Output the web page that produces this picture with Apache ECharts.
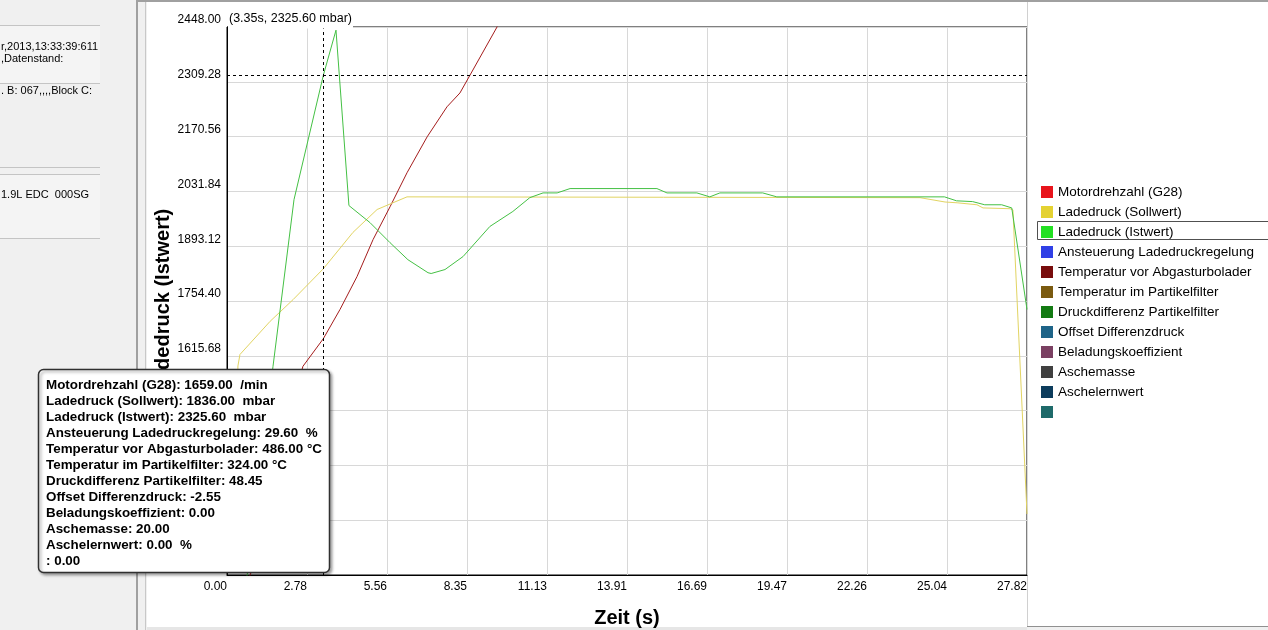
<!DOCTYPE html>
<html>
<head>
<meta charset="utf-8">
<script src="https://cdn.jsdelivr.net/npm/echarts@6/dist/echarts.min.js"></script>
<style>
html,body{margin:0;padding:0;background:#f0f0f0;}
#chart{width:1268px;height:630px;}
</style>
</head>
<body>
<div id="chart"></div>
<script>
// ---------- data ----------
const seriesNames = ['Motordrehzahl (G28)', 'Ladedruck (Sollwert)', 'Ladedruck (Istwert)', 'Ansteuerung Ladedruckregelung', 'Temperatur vor Abgasturbolader', 'Temperatur im Partikelfilter', 'Druckdifferenz Partikelfilter', 'Offset Differenzdruck', 'Beladungskoeffizient', 'Aschemasse', 'Aschelernwert', ' '];
const legendColors = ['#e8141c', '#e4d232', '#22e022', '#3040e6', '#780c0c', '#7a5a10', '#137a13', '#1e6488', '#7a4062', '#404040', '#0c3c5c', '#1e6a6a'];

const rpmTime   = [0, 1.0, 2.0, 2.64, 3.35, 3.93, 4.52, 5.08, 5.67, 6.26, 6.96, 7.65, 8.10, 8.55, 9.39, 10.2, 12.0, 27.82];
const rpmValues = [900, 1100, 1420, 1589, 1659, 1733, 1816, 1910, 1993, 2079, 2170, 2246, 2281, 2339, 2448, 2620, 2950, 3700];

const sollTime   = [0, 0.30, 0.38, 0.45, 1.50, 2.30, 3.35, 4.38, 5.22, 5.77, 6.26, 24.10, 24.97, 25.39, 26.08, 26.29, 27.23, 27.33, 27.82];
const sollValues = [1250, 1300, 1590, 1619, 1703, 1758, 1836, 1928, 1986, 2003, 2018, 2016, 2005, 2003, 1998, 1990, 1988, 1985, 1215];

const istTime   = [0, 0.42, 0.70, 1.60, 2.33, 3.35, 3.79, 4.24, 4.97, 5.67, 6.29, 6.99, 7.10, 7.58, 8.21, 9.14, 9.94, 10.53, 10.99, 11.48, 11.93, 14.95, 15.30, 16.34, 16.79, 17.14, 18.63, 19.12, 24.95, 25.37, 25.93, 26.35, 26.94, 27.29, 27.82];
const istValues = [1030, 1035, 1060, 1589, 2011, 2325.6, 2440, 1996, 1953, 1902, 1859, 1826, 1824, 1834, 1867, 1943, 1981, 2016, 2028, 2028, 2039, 2039, 2028, 2028, 2018, 2028, 2028, 2018, 2018, 2008, 2006, 1998, 1998, 1990, 1733];

const xMin = 0, xMax = 27.82, xStep = 2.782;
const yMin = 1060.80, yMax = 2448.00, yStep = 138.72;

const cursorTime = 3.35, cursorValue = 2325.60;
const tooltipValues = ['1659.00', '1836.00', '2325.60', '29.60', '486.00', '324.00', '48.45', '-2.55', '0.00', '20.00', '0.00', '0.00'];
const tooltipUnits  = ['  /min', '  mbar', '  mbar', '  %', ' °C', ' °C', '', '', '', '', '  %', ''];

const panelTexts = [
  {text: 'r,2013,13:33:39:6110', y: 46},
  {text: ',Datenstand:', y: 58},
  {text: '. B: 067,,,,Block C:', y: 90},
  {text: '1.9L EDC  000SG', y: 194}
];

// ---------- build ----------
const FONT = '"Liberation Sans", Arial, sans-serif';
const zip = (a, b) => a.map((v, i) => [v, b[i]]);
const lineColors = {0: '#a41c1c', 1: '#e2d462', 2: '#44c044'};
const lineData = {0: zip(rpmTime, rpmValues), 1: zip(sollTime, sollValues), 2: zip(istTime, istValues)};

const series = seriesNames.map((name, i) => {
  const s = {
    name: name,
    type: 'line',
    data: lineData[i] || [],
    showSymbol: false,
    symbol: 'none',
    animation: false,
    itemStyle: {color: legendColors[i]},
    lineStyle: {color: lineColors[i] || legendColors[i], width: 1},
    z: 3 + (i === 2 ? 1 : 0)
  };
  if (i === 2) {
    s.markLine = {
      silent: true, symbol: 'none', animation: false,
      label: {show: false},
      lineStyle: {color: '#000', type: [3, 3], width: 1},
      data: [{xAxis: cursorTime}, {yAxis: cursorValue}]
    };
  }
  return s;
});

const tooltipLines = seriesNames.map((n, i) => (n.trim()) + ': ' + tooltipValues[i] + tooltipUnits[i]);

const graphics = [
  {type: 'rect', z: -10, shape: {x: 147, y: 2, width: 1121, height: 625}, style: {fill: '#ffffff'}},
  {type: 'rect', z: -9, shape: {x: 137, y: 0, width: 1131, height: 2}, style: {fill: '#a0a0a0'}},
  {type: 'rect', z: -9, shape: {x: 136, y: 0, width: 2, height: 630}, style: {fill: '#a0a0a0'}},
  {type: 'rect', z: -9, shape: {x: 145, y: 2, width: 1, height: 628}, style: {fill: '#c8c8c8'}},
  {type: 'rect', z: -9, shape: {x: 1027, y: 2, width: 1, height: 625}, style: {fill: '#d0d0d0'}},
  {type: 'rect', z: -9, shape: {x: 147, y: 627, width: 880, height: 3}, style: {fill: '#e6e6e6'}},
  {type: 'rect', z: -9, shape: {x: 1027, y: 626, width: 241, height: 1}, style: {fill: '#909090'}},
  {type: 'rect', z: -9, shape: {x: 0, y: 25, width: 100, height: 58}, style: {fill: '#f4f4f4'}},
  {type: 'rect', z: -9, shape: {x: 0, y: 174, width: 100, height: 64}, style: {fill: '#f4f4f4'}}
];
[25, 83, 167, 174, 238].forEach(y => {
  graphics.push({type: 'line', z: -8, shape: {x1: 0, y1: y + 0.5, x2: 100, y2: y + 0.5}, style: {stroke: '#c4c4c4', lineWidth: 1}});
});
panelTexts.forEach(p => {
  graphics.push({type: 'text', z: -7, x: 1, y: p.y + 1, style: {text: p.text, font: '11px ' + FONT, fill: '#000', verticalAlign: 'middle', width: 99, overflow: 'truncate', ellipsis: ''}});
});
// cursor value label (covers top border behind it)
graphics.push({type: 'rect', z: 20, shape: {x: 228, y: 10, width: 125, height: 18.5}, style: {fill: '#fff'}});
graphics.push({type: 'text', z: 21, x: 229, y: 19, style: {text: '(' + cursorTime.toFixed(2) + 's, ' + cursorValue.toFixed(2) + ' mbar)', font: '12.5px ' + FONT, fill: '#000', verticalAlign: 'middle'}});
// legend focus frame
graphics.push({type: 'rect', z: 20, shape: {x: 1037.5, y: 221.5, width: 240, height: 18}, style: {fill: 'none', stroke: '#505050', lineWidth: 1}});
// tooltip box
graphics.push({type: 'rect', z: 50, shape: {x: 38.5, y: 369.5, width: 291, height: 203, r: 5}, style: {fill: '#fff', stroke: '#303030', lineWidth: 1.5, shadowBlur: 3, shadowColor: 'rgba(0,0,0,0.35)', shadowOffsetX: 2, shadowOffsetY: 2}});
graphics.push({type: 'text', z: 51, x: 46, y: 377, style: {text: tooltipLines.join('\n'), font: 'bold 13.4px ' + FONT, lineHeight: 16, fill: '#000'}});

const chart = echarts.init(document.getElementById('chart'), null, {renderer: 'canvas'});
chart.setOption({
  backgroundColor: '#f0f0f0',
  animation: false,
  textStyle: {fontFamily: FONT},
  grid: {left: 227, top: 27, width: 800, height: 548, show: true, borderColor: '#000', borderWidth: 1, backgroundColor: 'transparent', containLabel: false, outerBoundsMode: 'none'},
  legend: {
    orient: 'vertical', left: 1041, top: 185, padding: 0, itemWidth: 12, itemHeight: 12, itemGap: 6,
    icon: 'rect', selectedMode: false,
    textStyle: {fontSize: 13.5, color: '#000', fontFamily: FONT, lineHeight: 14},
    itemStyle: {borderWidth: 0},
    data: seriesNames.map((n, i) => ({name: n, itemStyle: {color: legendColors[i], borderWidth: 0}}))
  },
  xAxis: {
    type: 'value', min: xMin, max: xMax, interval: xStep,
    name: 'Zeit (s)', nameLocation: 'middle', nameGap: 33,
    nameTextStyle: {fontSize: 20, fontWeight: 'bold', color: '#000', fontFamily: FONT},
    axisLine: {show: true, lineStyle: {color: '#000', width: 1}},
    axisTick: {show: false},
    axisLabel: {fontSize: 12, color: '#000', align: 'right', margin: 6, formatter: v => v.toFixed(2), showMinLabel: true, showMaxLabel: true},
    splitLine: {show: true, lineStyle: {color: '#d8d8d8', width: 1}}
  },
  yAxis: {
    type: 'value', min: yMin, max: yMax, interval: yStep,
    name: 'Ladedruck (Istwert)', nameLocation: 'middle', nameGap: 54, nameRotate: 90, nameMoveOverlap: false,
    nameTextStyle: {fontSize: 20, fontWeight: 'bold', color: '#000', fontFamily: FONT},
    axisLine: {show: true, lineStyle: {color: '#000', width: 1}},
    axisTick: {show: false},
    axisLabel: {fontSize: 12, color: '#000', margin: 6, verticalAlign: 'bottom', padding: [0, 0, 1, 0], formatter: v => v.toFixed(2), showMinLabel: true, showMaxLabel: true},
    splitLine: {show: true, lineStyle: {color: '#d8d8d8', width: 1}}
  },
  tooltip: {show: false},
  series: series,
  graphic: graphics
});
</script>
</body>
</html>
